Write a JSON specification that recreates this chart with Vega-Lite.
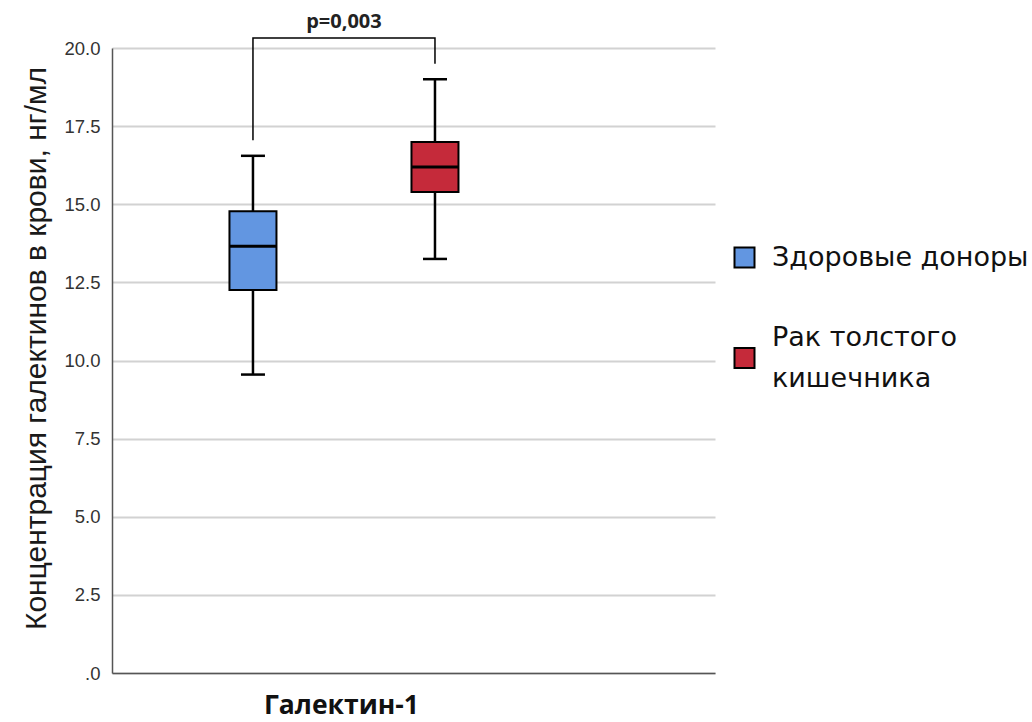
{
  "$schema": "https://vega.github.io/schema/vega-lite/v6.json",
  "autosize": {"type": "none"},
  "padding": {"left": 112, "top": 48, "right": 317, "bottom": 49},
  "width": 603,
  "height": 625,
  "background": "white",
  "config": {
    "view": {"stroke": null},
    "axis": {"gridColor": "#d2d2d2", "gridWidth": 2, "domainColor": "#555555", "domainWidth": 1.5},
    "style": {"guide-label": {"lineHeight": 41}}
  },
  "datasets": {
    "stats": [
      {"group": "Здоровые доноры", "lower": 9.55, "q1": 12.26, "median": 13.66, "q3": 14.78, "upper": 16.55},
      {"group": "Рак толстого кишечника", "lower": 13.25, "q1": 15.39, "median": 16.19, "q3": 16.99, "upper": 19.0}
    ],
    "bracket": [
      {"group": "Здоровые доноры", "v": 17.05, "o": 1},
      {"group": "Здоровые доноры", "v": 20.32, "o": 2},
      {"group": "Рак толстого кишечника", "v": 20.32, "o": 3},
      {"group": "Рак толстого кишечника", "v": 19.5, "o": 4}
    ],
    "ptext": [
      {"group": "Здоровые доноры", "v": 20.83, "label": "p=0,003"}
    ]
  },
  "encoding": {
    "x": {
      "field": "group", "type": "nominal", "sort": null,
      "scale": {"type": "band", "paddingInner": 0.687, "paddingOuter": 1, "align": 0.309, "domain": ["Здоровые доноры", "Рак толстого кишечника"]},
      "axis": {"labels": false, "ticks": false, "grid": false, "title": "Галектин-1", "titleFont": "Open Sans", "titleFontSize": 26.5, "titleFontWeight": "bold", "titleColor": "#111111", "titleX": 229, "titlePadding": 19, "titleBaseline": "top"}
    }
  },
  "layer": [
    {
      "data": {"name": "stats"},
      "mark": {"type": "rule", "color": "black", "strokeWidth": 2.5},
      "encoding": {
        "y": {"field": "lower", "type": "quantitative",
          "scale": {"domain": [0, 20], "nice": false},
          "axis": {"values": [0, 2.5, 5, 7.5, 10, 12.5, 15, 17.5, 20], "labelExpr": "datum.value == 0 ? '.0' : format(datum.value, '.1f')", "ticks": false, "labelPadding": 12, "labelFont": "Liberation Sans", "labelFontSize": 18.5, "labelColor": "#333333", "title": "Концентрация галектинов в крови, нг/мл", "titleFont": "Liberation Sans", "titleFontSize": 30, "titleFontWeight": "normal", "titleColor": "#1a1a1a", "titlePadding": 12, "titleY": 300}},
        "y2": {"field": "upper"}
      }
    },
    {
      "data": {"name": "stats"},
      "mark": {"type": "bar", "size": 47, "stroke": "black", "strokeWidth": 2, "opacity": 1},
      "encoding": {
        "y": {"field": "q1", "type": "quantitative"},
        "y2": {"field": "q3"},
        "color": {
          "field": "group", "type": "nominal",
          "scale": {"domain": ["Здоровые доноры", "Рак толстого кишечника"], "range": ["#6296E1", "#C52A3A"]},
          "legend": {
            "title": null, "orient": "none", "legendX": 619, "legendY": 196,
            "symbolType": "square", "symbolSize": 400, "symbolStrokeColor": "black", "symbolStrokeWidth": 2, "symbolFillOpacity": 1, "symbolOpacity": 1,
            "labelFont": "DejaVu Sans", "labelFontSize": 27, "labelColor": "#111111", "labelLimit": 400, "labelOffset": 14, "rowPadding": 51,
            "labelExpr": "datum.label == 'Рак толстого кишечника' ? ['Рак толстого', 'кишечника'] : datum.label",
            "encode": {"symbols": {"update": {"shape": {"signal": "datum.value == 'Рак толстого кишечника' ? 'M-1,1.05H1V3.05H-1Z' : 'M-1,-1H1V1H-1Z'"}}}}
          }
        }
      }
    },
    {
      "data": {"name": "stats"},
      "mark": {"type": "tick", "color": "black", "size": 47, "thickness": 3, "opacity": 1},
      "encoding": {"y": {"field": "median", "type": "quantitative"}}
    },
    {
      "data": {"name": "stats"},
      "mark": {"type": "tick", "color": "black", "size": 24, "thickness": 2.5, "opacity": 1},
      "encoding": {"y": {"field": "lower", "type": "quantitative"}}
    },
    {
      "data": {"name": "stats"},
      "mark": {"type": "tick", "color": "black", "size": 24, "thickness": 2.5, "opacity": 1},
      "encoding": {"y": {"field": "upper", "type": "quantitative"}}
    },
    {
      "data": {"name": "bracket"},
      "mark": {"type": "line", "color": "black", "strokeWidth": 1.5, "clip": false},
      "encoding": {
        "y": {"field": "v", "type": "quantitative"},
        "order": {"field": "o"}
      }
    },
    {
      "data": {"name": "ptext"},
      "mark": {"type": "text", "dx": 91, "font": "Open Sans", "fontSize": 20, "fontWeight": "bold", "color": "#222222", "baseline": "middle"},
      "encoding": {
        "y": {"field": "v", "type": "quantitative"},
        "text": {"field": "label"}
      }
    }
  ]
}
